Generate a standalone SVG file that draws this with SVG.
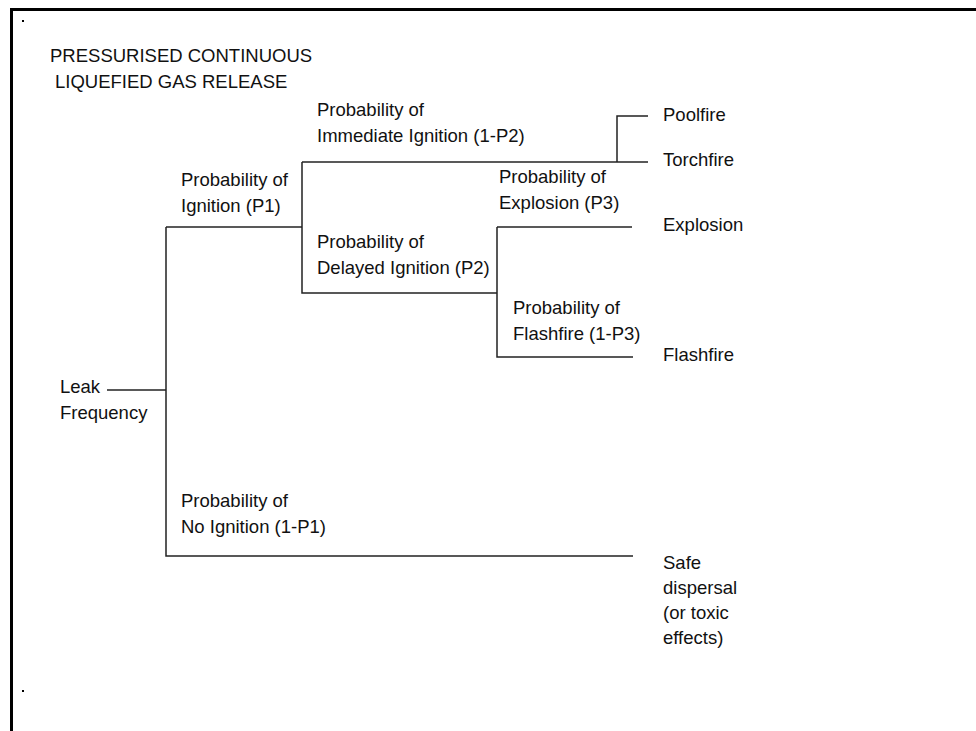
<svg xmlns="http://www.w3.org/2000/svg" width="976" height="731" viewBox="0 0 976 731">
<style>
text{font-family:"Liberation Sans",Arial,sans-serif;font-size:18.5px;fill:#111}
.ln{stroke:#222;stroke-width:1.5;fill:none}
.bd{stroke:#000;stroke-width:3;fill:none}
</style>
<rect width="976" height="731" fill="#fff"/>
<g id="frame">
<path class="bd" d="M11.5,731 V9.5 H976"/>
<rect x="22" y="20" width="2" height="2" fill="#000"/>
<rect x="22" y="690" width="2" height="2" fill="#000"/>
</g>
<g id="title">
<text x="50" y="62">PRESSURISED CONTINUOUS</text>
<text x="55" y="88">LIQUEFIED GAS RELEASE</text>
</g>
<g id="connectors">
<path class="ln" d="M107,390 H166"/>
<path class="ln" d="M166,227 V556 H633"/>
<path class="ln" d="M166,227 H302"/>
<path class="ln" d="M302,162 V293 H497"/>
<path class="ln" d="M302,162 H648"/>
<path class="ln" d="M617,162 V116 H648"/>
<path class="ln" d="M497,227 V357 H633"/>
<path class="ln" d="M497,227 H632"/>
</g>
<g id="leak"><text x="60" y="393">Leak</text><text x="60" y="419">Frequency</text></g>
<g id="p1"><text x="181" y="186">Probability of</text><text x="181" y="212">Ignition (P1)</text></g>
<g id="np1"><text x="181" y="507">Probability of</text><text x="181" y="533">No Ignition (1-P1)</text></g>
<g id="imm"><text x="317" y="116">Probability of</text><text x="317" y="142">Immediate Ignition (1-P2)</text></g>
<g id="del"><text x="317" y="248">Probability of</text><text x="317" y="274">Delayed Ignition (P2)</text></g>
<g id="p3"><text x="499" y="183">Probability of</text><text x="499" y="209">Explosion (P3)</text></g>
<g id="np3"><text x="513" y="314">Probability of</text><text x="513" y="340">Flashfire (1-P3)</text></g>
<g id="poolfire"><text x="663" y="121">Poolfire</text></g>
<g id="torchfire"><text x="663" y="166">Torchfire</text></g>
<g id="explosion"><text x="663" y="231">Explosion</text></g>
<g id="flashfire"><text x="663" y="361">Flashfire</text></g>
<g id="safe"><text x="663" y="569">Safe</text><text x="663" y="594">dispersal</text><text x="663" y="619">(or toxic</text><text x="663" y="644">effects)</text></g>
</svg>
